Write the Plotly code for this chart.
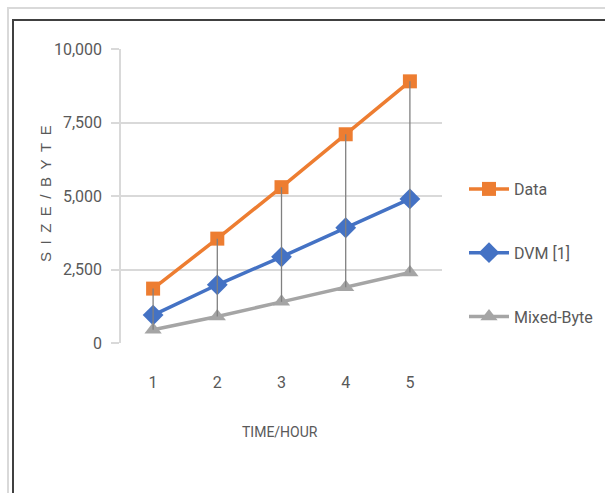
import plotly.graph_objects as go

hours = [1, 2, 3, 4, 5]
data_vals = [1850, 3550, 5300, 7100, 8900]
dvm_vals = [950, 1980, 2930, 3920, 4900]
mixed_vals = [450, 900, 1400, 1900, 2400]
y_ticks = [0, 2500, 5000, 7500, 10000]
y_tick_text = ["0", "2,500", "5,000", "7,500", "10,000"]

FONT = "Roboto, Liberation Sans, sans-serif"
TXT = "#595959"

# plot area pixel geometry
W, H = 605, 493
L, R, T, B = 121, 442, 49, 343


def px(x):
    return (x - L) / (R - L)


def py(y):
    return (B - y) / (B - T)


fig = go.Figure()

series = [
    ("Data", data_vals, "#ED7D31", "square", 14),
    ("DVM [1]", dvm_vals, "#4472C4", "diamond", 16),
    ("Mixed-Byte", mixed_vals, "#A5A5A5", "triangle-up", 15),
]
for name, vals, col, sym, sz in series:
    fig.add_trace(go.Scatter(
        x=hours, y=vals, name=name, mode="lines+markers",
        line=dict(color=col, width=3.5),
        marker=dict(symbol=sym, size=sz, color=col),
        legendgroup=name,
    ))

# high-low lines between highest and lowest series
hx, hy = [], []
for h, hi, lo in zip(hours, data_vals, mixed_vals):
    hx += [h, h, None]
    hy += [hi, lo, None]
fig.add_trace(go.Scatter(x=hx, y=hy, mode="lines", showlegend=False,
                         line=dict(color="#808080", width=1.3), hoverinfo="skip"))

shapes = [
    dict(type="line", xref="paper", yref="paper", x0=px(7), x1=px(W), y0=py(8), y1=py(8),
         line=dict(color="#d9d9d9", width=2)),
    dict(type="line", xref="paper", yref="paper", x0=px(8), x1=px(8), y0=py(7), y1=py(H),
         line=dict(color="#d9d9d9", width=2)),
    dict(type="line", xref="paper", yref="paper", x0=px(12), x1=px(W), y0=py(20), y1=py(20),
         line=dict(color="#404040", width=2)),
    dict(type="line", xref="paper", yref="paper", x0=px(13), x1=px(13), y0=py(19), y1=py(H),
         line=dict(color="#404040", width=2)),
]

annotations = [
    dict(text="S\u2002I\u2002Z\u2002E\u2002/\u2002B\u2002Y\u2002T\u2002E", textangle=-90,
         xref="paper", yref="paper", x=px(45), y=py(194), xanchor="center", yanchor="middle",
         showarrow=False, font=dict(family="Liberation Sans, Arial, sans-serif", size=15, color=TXT)),
    dict(text="TIME/HOUR", xref="paper", yref="paper", x=px(280), y=py(432),
         xanchor="center", yanchor="middle", showarrow=False,
         font=dict(family=FONT, size=14, color=TXT)),
]

fig.update_layout(
    width=W, height=H, autosize=False,
    margin=dict(l=L, r=W - R, t=T, b=H - B, autoexpand=False),
    paper_bgcolor="white", plot_bgcolor="white",
    font=dict(family=FONT, color=TXT, size=16),
    shapes=shapes, annotations=annotations,
    legend=dict(x=px(464), y=py(172), xanchor="left", yanchor="top",
                traceorder="grouped", tracegroupgap=40,
                font=dict(family=FONT, size=16, color=TXT),
                bgcolor="rgba(0,0,0,0)", itemwidth=40),
    showlegend=True,
)
fig.update_xaxes(range=[0.5, 5.5], tickvals=hours, ticktext=[str(h) for h in hours],
                 showgrid=False, zeroline=False, showline=False, ticks="",
                 ticklabelstandoff=28, tickfont=dict(size=16, color=TXT, family=FONT),
                 fixedrange=True)
fig.update_yaxes(range=[0, 10000], tickvals=y_ticks, ticktext=y_tick_text,
                 showgrid=True, gridcolor="#d9d9d9", gridwidth=1.5,
                 zeroline=False, showline=True, linecolor="#d9d9d9", linewidth=1.5,
                 ticks="outside", ticklen=8, tickcolor="#d9d9d9", tickwidth=1.5,
                 ticklabelstandoff=6, tickfont=dict(size=16, color=TXT, family=FONT),
                 fixedrange=True)

fig.write_html("out.html", config=dict(displayModeBar=False),
               post_script="document.body.style.margin='0';document.body.style.overflow='hidden';")
